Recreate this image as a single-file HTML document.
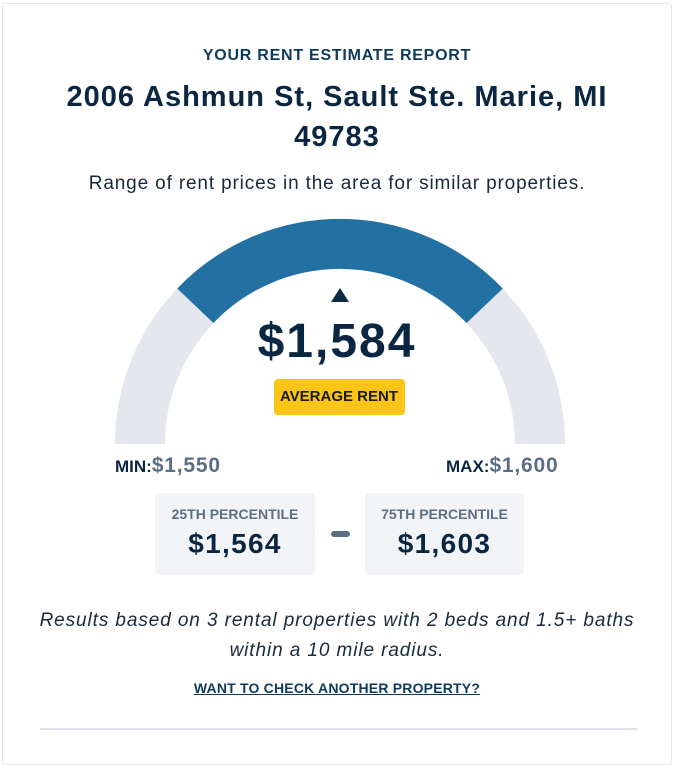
<!DOCTYPE html>
<html><head><style>
body{margin:0;width:674px;height:743px;background:#fff;font-family:"Liberation Sans",sans-serif;position:relative;overflow:hidden}
.frame{position:absolute;left:2px;top:3px;width:668px;height:760px;border:1px solid #e3e6ec;border-radius:3px}
.c{position:absolute;left:0;width:674px;text-align:center}
.t{position:absolute;white-space:nowrap}
</style></head><body>
<div class="frame"></div>
<div class="c" style="top:47px;font-size:16px;font-weight:bold;color:#0e3a5e;letter-spacing:0.75px">YOUR RENT ESTIMATE REPORT</div>
<div class="c" style="top:77px;font-size:29px;font-weight:bold;color:#0a2640;line-height:40px;letter-spacing:1px">2006 Ashmun St, Sault Ste. Marie, MI<br>49783</div>
<div class="c" style="top:173px;font-size:19px;color:#1a2a3a;letter-spacing:0.85px">Range of rent prices in the area for similar properties.</div>
<svg style="position:absolute;left:0;top:0" width="674" height="743">
<path d="M140,444 A200,200 0 0 1 540,444" fill="none" stroke="#e4e7ee" stroke-width="50"/>
<path d="M195.3,305.8 A200,200 0 0 1 484.7,305.8" fill="none" stroke="#2370a3" stroke-width="50"/>
<polygon points="340,288 331,302 349,302" fill="#0d2a44"/>
<rect x="274" y="379" width="131" height="36" rx="4" fill="#fac516"/>
<rect x="155" y="493" width="160" height="82" rx="4" fill="#f3f4f7"/>
<rect x="365" y="493" width="159" height="82" rx="4" fill="#f3f4f7"/>
<rect x="331" y="531" width="19" height="6" rx="3" fill="#5b6e84"/>
<line x1="40" y1="729" x2="638" y2="729" stroke="#dfe2e8" stroke-width="2"/>
</svg>
<div class="c" style="top:314px;font-size:48px;font-weight:bold;color:#0a2640;letter-spacing:2px">$1,584</div>
<div class="c" style="top:388px;font-size:15px;font-weight:bold;color:#1a1a1a;left:2px">AVERAGE RENT</div>
<div class="t" style="left:115px;top:454px;font-size:17px;font-weight:bold;color:#0a2640">MIN:<span style="color:#5b6e84;font-size:21px;letter-spacing:0.8px">$1,550</span></div>
<div class="t" style="left:446px;top:454px;font-size:17px;font-weight:bold;color:#0a2640">MAX:<span style="color:#5b6e84;font-size:21px;letter-spacing:0.8px">$1,600</span></div>
<div class="t" style="left:155px;width:160px;text-align:center;top:506px;font-size:14px;font-weight:bold;color:#5b6e84">25TH PERCENTILE</div>
<div class="t" style="left:365px;width:159px;text-align:center;top:506px;font-size:14px;font-weight:bold;color:#5b6e84">75TH PERCENTILE</div>
<div class="t" style="left:155px;width:160px;text-align:center;top:528px;font-size:28px;font-weight:bold;color:#0a2640;letter-spacing:1.3px">$1,564</div>
<div class="t" style="left:365px;width:159px;text-align:center;top:528px;font-size:28px;font-weight:bold;color:#0a2640;letter-spacing:1.3px">$1,603</div>
<div class="c" style="top:606px;font-size:19px;font-style:italic;color:#1a2a3a;line-height:30px;letter-spacing:0.9px">Results based on 3 rental properties with 2 beds and 1.5+ baths<br>within a 10 mile radius.</div>
<div class="c" style="top:680px;font-size:14px;font-weight:bold;color:#0e3a5e;text-decoration:underline;letter-spacing:0.2px">WANT TO CHECK ANOTHER PROPERTY?</div>
</body></html>
